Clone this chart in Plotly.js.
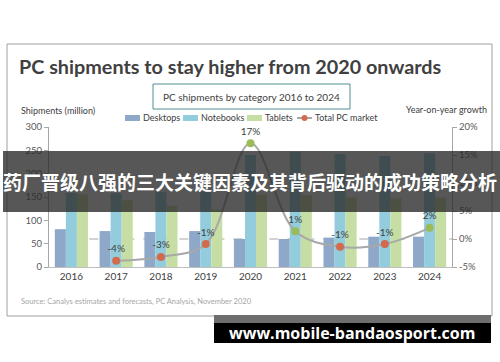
<!DOCTYPE html>
<html><head><meta charset="utf-8">
<script src="https://cdn.plot.ly/plotly-3.0.1.min.js"></script>
<style>html,body{margin:0;padding:0;background:#fff;}#chart{width:500px;height:362px;}</style>
</head><body><div id="chart"></div>
<script>
// ---- data ----
const years = ['2016','2017','2018','2019','2020','2021','2022','2023','2024'];
const desktops  = [81, 77, 75, 77, 60, 60, 63, 65, 65];
const notebooks = [159, 158, 161, 162, 240, 247, 242, 238, 244];
const tablets   = [156, 143, 131, 123, 155, 154, 149, 147, 149];
const growth       = [null, -3.9, -3.2, -0.9, 17.1, 1.4, -1.4, -0.9, 2.0];
const growthLabels = ['', '-4%', '-3%', '-1%', '17%', '1%', '-1%', '-1%', '2%'];
const seriesNames = ['Desktops', 'Notebooks', 'Tablets', 'Total PC market'];
const leftTicks = [0, 50, 100, 150, 200, 250, 300];
const rightTicks = [-5, 0, 5, 10, 15, 20];
const rightTickText = ['-5%', '0%', '5%', '10%', '15%', '20%'];

// ---- styling ----
const W = 500, H = 362;
const X = p => p / W, Y = p => 1 - p / H;
const FONT = 'Lato, "Open Sans", sans-serif';
const colDesk = '#8DA8C8', colNote = '#93CDDD', colTab = '#C6DEA4', colLine = '#A8A8A8';
const colNeg = '#D26A4E', colPos = '#9BBB59';
const markerColors = growth.map(v => v === null ? colPos : (v < 0 ? colNeg : colPos));

const traces = [
  {type:'bar', name:seriesNames[0], x:years, y:desktops, marker:{color:colDesk}, showlegend:false},
  {type:'bar', name:seriesNames[1], x:years, y:notebooks, marker:{color:colNote}, showlegend:false},
  {type:'bar', name:seriesNames[2], x:years, y:tablets, marker:{color:colTab}, showlegend:false},
  {type:'scatter', name:seriesNames[3], x:years, y:growth, yaxis:'y2',
   mode:'lines+markers+text', text:growthLabels, textposition:'top center',
   textfont:{family:FONT, size:10, color:'#404040'},
   line:{color:colLine, width:2, shape:'spline', smoothing:1},
   marker:{size:8, color:markerColors}, connectgaps:false, showlegend:false, cliponaxis:false}
];

const shapes = [
  // outer frame
  {type:'rect', xref:'paper', yref:'paper', x0:X(7), x1:X(492), y0:Y(44), y1:Y(316),
   line:{color:'#A0A0A0', width:1}, fillcolor:'rgba(0,0,0,0)', layer:'below'},
  // subtitle box
  {type:'rect', xref:'paper', yref:'paper', x0:X(153), x1:X(350), y0:Y(84), y1:Y(109),
   line:{color:'#4F8E93', width:1}, fillcolor:'rgba(0,0,0,0)', layer:'below'},
  // dashed 0% line
  {type:'line', xref:'x', yref:'y2', x0:0, x1:8.5, y0:0, y1:0,
   line:{color:'#A6A6A6', width:1, dash:'dash'}, layer:'below'},
  // overlay banner
  {type:'rect', xref:'paper', yref:'paper', x0:X(3), x1:X(500), y0:Y(151), y1:Y(212),
   line:{width:0}, fillcolor:'rgba(40,40,40,0.78)', layer:'above'},
  // watermark box
  {type:'rect', xref:'paper', yref:'paper', x0:X(214), x1:X(491), y0:Y(315), y1:Y(323),
   line:{width:0}, fillcolor:'#6E6E6E', layer:'above'},
  {type:'rect', xref:'paper', yref:'paper', x0:X(214), x1:X(491), y0:Y(323), y1:Y(343),
   line:{width:0}, fillcolor:'#000000', layer:'above'}
];

// custom legend (swatches)
const legX = [125, 183, 247, 297];
const legColors = [colDesk, colNote, colTab];
legColors.forEach((c, i) => {
  shapes.push({type:'rect', xref:'paper', yref:'paper', x0:X(legX[i]), x1:X(legX[i]+15),
    y0:Y(121), y1:Y(115), line:{width:0}, fillcolor:c, layer:'below'});
});
shapes.push({type:'line', xref:'paper', yref:'paper', x0:X(legX[3]), x1:X(legX[3]+15),
  y0:Y(118), y1:Y(118), line:{color:colLine, width:2}, layer:'below'});
shapes.push({type:'circle', xref:'paper', yref:'paper', x0:X(legX[3]+4.5), x1:X(legX[3]+10.5),
  y0:Y(121), y1:Y(115), line:{width:0}, fillcolor:colNeg, layer:'below'});

const ann = (txt, x, y, size, color, xanchor, extra) => Object.assign({
  text:txt, xref:'paper', yref:'paper', x:X(x), y:Y(y), xanchor:xanchor||'left', yanchor:'middle',
  showarrow:false, font:{family:FONT, size:size, color:color}}, extra||{});

const annotations = [
  ann('<b>PC shipments to stay higher from 2020 onwards</b>', 17, 66, 19.8, '#404040'),
  ann('PC shipments by category 2016 to 2024', 251.5, 96.5, 10, '#404040', 'center'),
  ann('Shipments (million)', 19, 111, 9, '#404040'),
  ann('Year-on-year growth', 404, 109, 9, '#404040'),
  ann('Source: Canalys estimates and forecasts, PC Analysis, November 2020', 19, 301, 7.5, '#A6A6A6'),
  ann('<b>药厂晋级八强的三大关键因素及其背后驱动的成功策略分析</b>', 250, 181.5, 19, '#FFFFFF', 'center',
      {font:{family:'"Noto Sans CJK SC", sans-serif', size:19, color:'#FFFFFF'}}),
  ann('<b>www.mobile-bandaosport.com</b>', 352, 333, 16, '#FFFFFF', 'center',
      {font:{family:'"Open Sans", sans-serif', size:16, color:'#FFFFFF'}})
];
seriesNames.forEach((n, i) => {
  annotations.push(ann(n, legX[i] + 16, 118, 9, '#404040'));
});

const layout = {
  width:W, height:H, margin:{l:0, r:0, t:0, b:0}, paper_bgcolor:'#fff', plot_bgcolor:'rgba(0,0,0,0)',
  font:{family:FONT, color:'#595959'},
  barmode:'group', bargap:0.26, bargroupgap:0,
  showlegend:false,
  xaxis:{domain:[X(49), X(452)], type:'category', range:[-0.5, 8.5], showline:true, linecolor:'#BFBFBF',
         linewidth:1, ticks:'', showgrid:false, zeroline:false, tickfont:{family:FONT, size:10, color:'#404040'},
         automargin:false, fixedrange:true},
  yaxis:{domain:[Y(267), Y(127)], range:[0, 300], tickmode:'array', tickvals:leftTicks, showline:true, linecolor:'#A6A6A6',
         ticks:'outside', ticklen:4, tickcolor:'#A6A6A6', showgrid:false, zeroline:false,
         tickfont:{family:FONT, size:9.5, color:'#595959'}, automargin:false, fixedrange:true},
  yaxis2:{overlaying:'y', side:'right', anchor:'x', range:[-5, 20], tickmode:'array', tickvals:rightTicks,
          ticktext:rightTickText,
          showline:true, linecolor:'#A6A6A6', ticks:'outside', ticklen:4, tickcolor:'#A6A6A6',
          showgrid:false, zeroline:false, tickfont:{family:FONT, size:9.5, color:'#595959'},
          automargin:false, fixedrange:true},
  shapes:shapes, annotations:annotations
};

Plotly.newPlot('chart', traces, layout, {displayModeBar:false, staticPlot:true});
</script></body></html>
